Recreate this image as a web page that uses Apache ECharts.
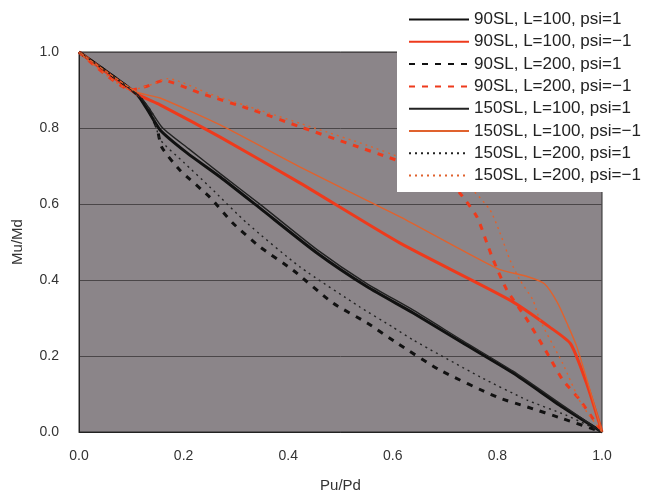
<!DOCTYPE html>
<html>
<head>
<meta charset="utf-8">
<script src="https://cdn.jsdelivr.net/npm/echarts@6/dist/echarts.min.js"></script>
<style>
  html, body { margin: 0; padding: 0; background: #fff; }
  #chart { width: 659px; height: 498px; }
</style>
</head>
<body>
<div id="chart"></div>
<script>
  // series names (legend order)
  var names = [
    '90SL, L=100, psi=1',
    '90SL, L=100, psi=\u22121',
    '90SL, L=200, psi=1',
    '90SL, L=200, psi=\u22121',
    '150SL, L=100, psi=1',
    '150SL, L=100, psi=\u22121',
    '150SL, L=200, psi=1',
    '150SL, L=200, psi=\u22121'
  ];

  var xTicks = [0, 0.2, 0.4, 0.6, 0.8, 1.0];

  // [Pu/Pd, Mu/Md]
  var sl90L100p1 = [[0,1],[0.11,0.89],[0.13,0.85],[0.155,0.795],[0.207,0.734],[0.27,0.671],[0.346,0.589],[0.455,0.471],[0.551,0.382],[0.639,0.313],[0.734,0.234],[0.83,0.155],[0.925,0.065],[1,0]];
  var sl90L100m1 = [[0,1],[0.11,0.89],[0.155,0.861],[0.27,0.776],[0.423,0.655],[0.614,0.497],[0.824,0.347],[0.90,0.276],[0.94,0.232],[0.97,0.13],[1,0]];
  var sl90L200p1 = [[0,1],[0.11,0.89],[0.13,0.855],[0.149,0.80],[0.158,0.75],[0.193,0.689],[0.25,0.618],[0.294,0.55],[0.346,0.487],[0.409,0.426],[0.486,0.339],[0.551,0.287],[0.608,0.234],[0.69,0.163],[0.799,0.092],[0.857,0.066],[0.925,0.035],[1,0]];
  var sl90L200m1 = [[0,1],[0.1,0.9],[0.13,0.91],[0.161,0.925],[0.231,0.892],[0.333,0.847],[0.423,0.803],[0.524,0.755],[0.589,0.724],[0.66,0.69],[0.70,0.665],[0.728,0.629],[0.761,0.566],[0.78,0.497],[0.792,0.453],[0.818,0.374],[0.857,0.295],[0.895,0.208],[0.925,0.137],[0.958,0.084],[1,0]];
  var sl150L100p1 = [[0,1],[0.11,0.89],[0.13,0.86],[0.16,0.80],[0.21,0.745],[0.27,0.68],[0.35,0.595],[0.455,0.48],[0.551,0.39],[0.64,0.32],[0.734,0.24],[0.83,0.16],[0.925,0.07],[1,0]];
  var sl150L100m1 = [[0,1],[0.11,0.895],[0.155,0.879],[0.27,0.808],[0.423,0.697],[0.614,0.566],[0.8,0.43],[0.86,0.408],[0.89,0.39],[0.915,0.34],[0.935,0.28],[0.952,0.224],[0.975,0.12],[1,0]];
  var sl150L200p1 = [[0,1],[0.11,0.89],[0.14,0.84],[0.155,0.77],[0.2,0.71],[0.25,0.645],[0.321,0.55],[0.423,0.434],[0.537,0.329],[0.60,0.276],[0.639,0.242],[0.767,0.145],[0.857,0.084],[0.93,0.045],[1,0]];
  var sl150L200m1 = [[0,1],[0.1,0.9],[0.14,0.915],[0.17,0.93],[0.25,0.89],[0.35,0.845],[0.45,0.80],[0.55,0.755],[0.62,0.72],[0.70,0.68],[0.75,0.64],[0.786,0.584],[0.805,0.524],[0.824,0.453],[0.843,0.40],[0.868,0.347],[0.881,0.295],[0.925,0.18],[0.96,0.075],[1,0]];

  var dataSets = [sl90L100p1, sl90L100m1, sl90L200p1, sl90L200m1, sl150L100p1, sl150L100m1, sl150L200p1, sl150L200m1];

  var black = '#111111', red = '#ee3a1c', orange = '#e0622e';
  var styles = [
    {color: black, width: 3, type: 'solid'},
    {color: red, width: 3, type: 'solid'},
    {color: black, width: 3, type: [6, 7]},
    {color: red, width: 3, type: [6, 7]},
    {color: '#222222', width: 1.4, type: 'solid'},
    {color: orange, width: 1.4, type: 'solid'},
    {color: '#222222', width: 1.4, type: [2, 4]},
    {color: orange, width: 1.4, type: [2, 4]}
  ];

  var series = [];
  for (var i = 0; i < names.length; i++) {
    series.push({
      name: names[i],
      type: 'line',
      symbol: 'none',
      smooth: 0.2,
      color: styles[i].color,
      lineStyle: {color: styles[i].color, width: styles[i].width, type: styles[i].type},
      data: dataSets[i]
    });
  }

  var chart = echarts.init(document.getElementById('chart'));
  chart.setOption({
    animation: false,
    textStyle: {fontFamily: 'Liberation Sans'},
    grid: {
      left: 79, right: 57, top: 52, bottom: 66,
      show: true,
      backgroundColor: '#8b8589',
      borderColor: '#2a2a2a',
      borderWidth: 1
    },
    legend: {
      orient: 'vertical',
      left: 397,
      top: 8,
      padding: [3, 6, 8, 11],
      backgroundColor: '#ffffff',
      itemWidth: 60,
      itemHeight: 17,
      itemGap: 5.3,
      itemStyle: {opacity: 0},
      data: names,
      textStyle: {fontSize: 17, color: '#222', fontFamily: 'Liberation Sans'}
    },
    xAxis: {
      type: 'value',
      min: 0, max: 1, interval: 0.2,
      name: 'Pu/Pd',
      nameLocation: 'middle',
      nameGap: 46,
      nameTextStyle: {fontSize: 15, color: '#333'},
      axisLine: {show: true, lineStyle: {color: '#222'}},
      axisTick: {show: false},
      splitLine: {show: false},
      axisLabel: {fontSize: 14, color: '#333', margin: 17, formatter: function (v) { return v.toFixed(1); }}
    },
    yAxis: {
      type: 'value',
      min: 0, max: 1, interval: 0.2,
      name: 'Mu/Md',
      nameLocation: 'middle',
      nameGap: 54,
      nameTextStyle: {fontSize: 15, color: '#333'},
      axisLine: {show: true, lineStyle: {color: '#222'}},
      axisTick: {show: false},
      splitLine: {show: true, lineStyle: {color: '#4a4648', width: 1}},
      axisLabel: {fontSize: 14, color: '#333', margin: 20, formatter: function (v) { return v.toFixed(1); }}
    },
    series: series
  });
</script>
</body>
</html>
